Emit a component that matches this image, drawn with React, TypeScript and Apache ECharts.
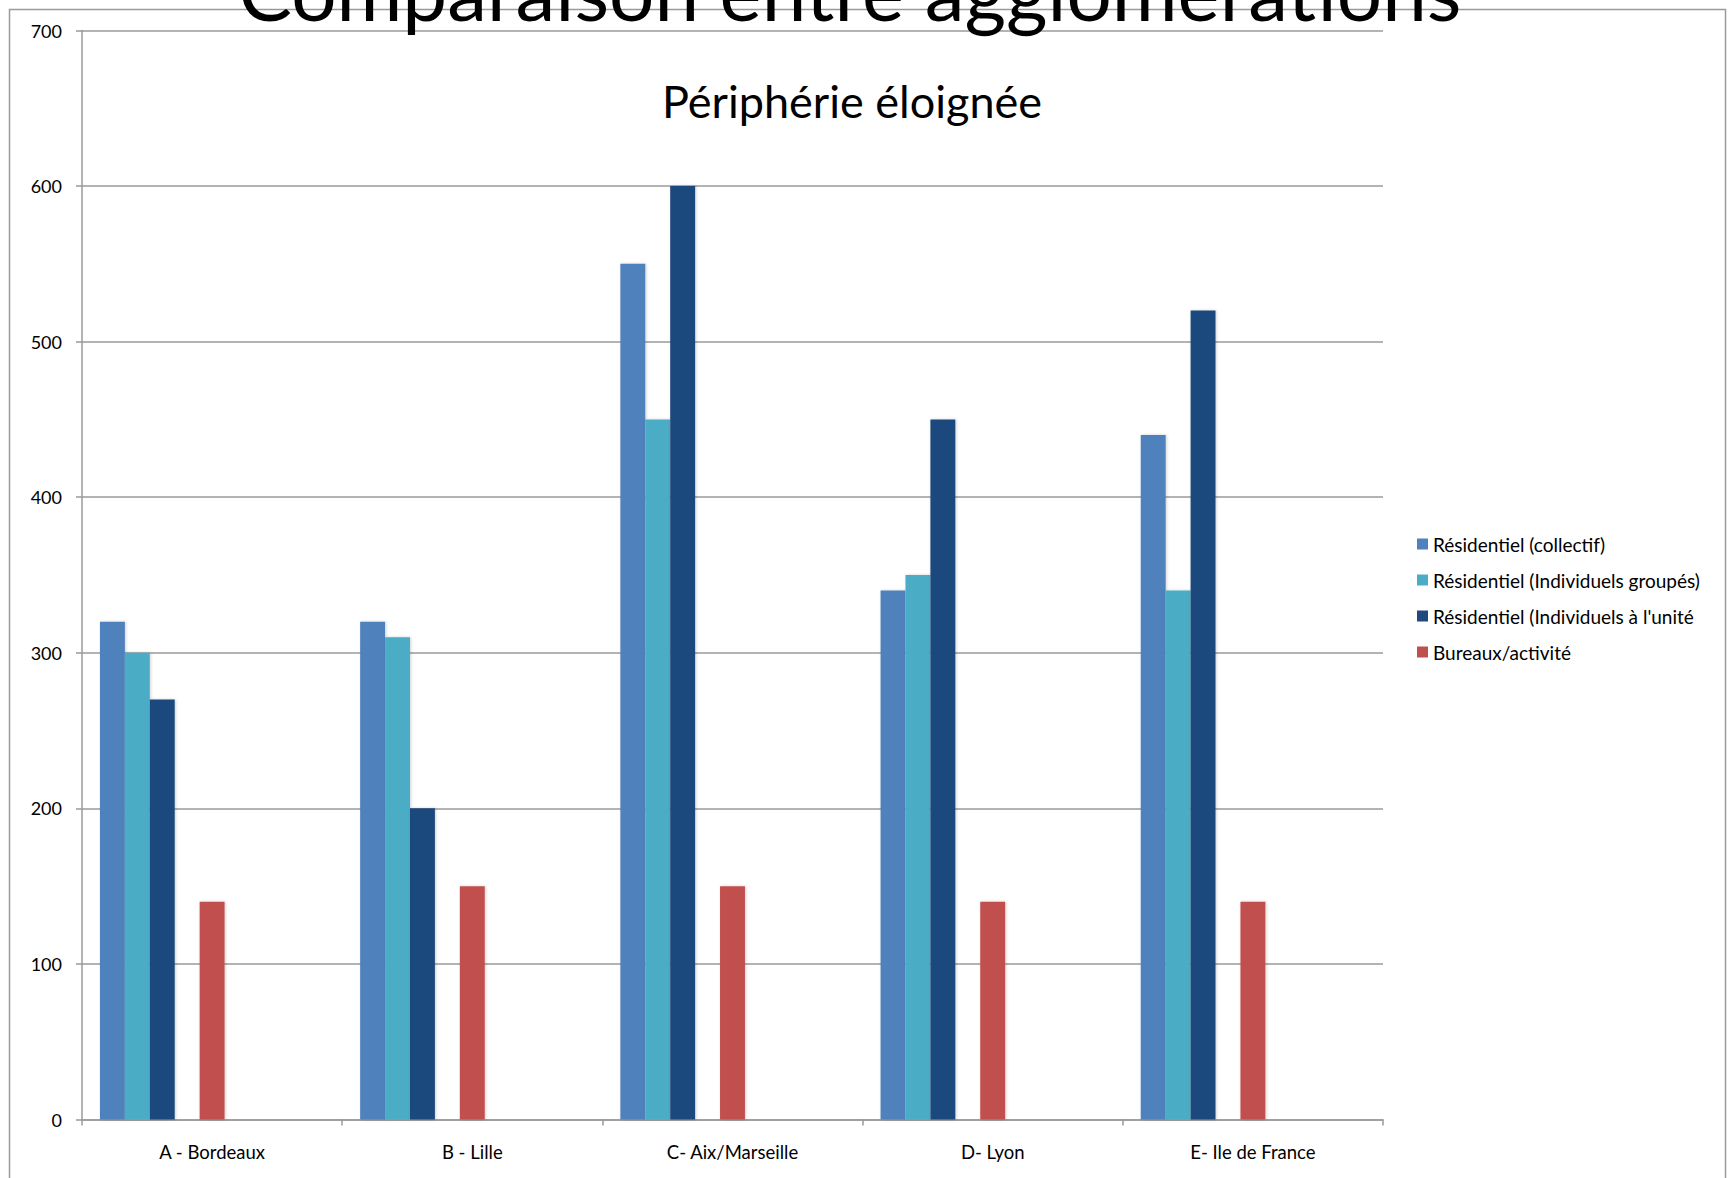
import React, { useEffect, useRef } from "react";
import * as echarts from "echarts";

// Agglomerations compared on the horizontal axis
const categories = [
  "A - Bordeaux",
  "B - Lille",
  "C- Aix/Marseille",
  "D- Lyon",
  "E- Ile de France",
];

// Series names shown in the legend
const seriesNames = [
  "Résidentiel (collectif)",
  "Résidentiel (Individuels groupés)",
  "Résidentiel (Individuels à l'unité",
  "Bureaux/activité",
];

// Values per agglomeration
const collectif = [320, 320, 550, 340, 440];
const individuelsGroupes = [300, 310, 450, 350, 340];
const individuelsUnite = [270, 200, 600, 450, 520];
const bureaux = [140, 150, 150, 140, 140];

const seriesColors = ["#4F81BD", "#4BACC6", "#1F497D", "#C0504D"];

// Y axis range
const yMin = 0;
const yMax = 700;
const yStep = 100;

const FONT = "Lato, 'Open Sans', sans-serif";

export default function App() {
  const ref = useRef<HTMLDivElement>(null);

  useEffect(() => {
    if (!ref.current) return;
    const chart = echarts.init(ref.current, undefined, { renderer: "svg" });

    const barSeries = (name: string, data: number[], color: string) => ({
      name,
      type: "bar",
      data,
      barGap: "0%",
      barCategoryGap: "13.8%",
      itemStyle: {
        color,
        shadowColor: "rgba(0,0,0,0.18)",
        shadowBlur: 3,
        shadowOffsetX: 1,
      },
    });
    // Empty slots keep the spacing of the grouped columns
    const emptySlot = () => ({
      type: "bar",
      data: [] as number[],
      barGap: "0%",
      barCategoryGap: "13.8%",
    });

    chart.setOption({
      animation: false,
      backgroundColor: "#ffffff",
      textStyle: { fontFamily: FONT },
      graphic: [
        {
          type: "rect",
          z: -10,
          silent: true,
          shape: { x: 9.5, y: 9.5, width: 1716, height: 1200 },
          style: { fill: "none", stroke: "#9a9a9a", lineWidth: 1.5 },
        },
        {
          type: "text",
          z: 100,
          x: 850,
          y: -10,
          style: {
            text: "Comparaison entre agglomérations",
            fontFamily: FONT,
            fontSize: 80,
            fill: "#000000",
            align: "center",
            verticalAlign: "middle",
          },
        },
        {
          type: "text",
          z: 100,
          x: 852,
          y: 101,
          style: {
            text: "Périphérie éloignée",
            fontFamily: FONT,
            fontSize: 45,
            fill: "#000000",
            align: "center",
            verticalAlign: "middle",
          },
        },
      ],
      legend: {
        orient: "vertical",
        left: 1417,
        top: 533,
        padding: 0,
        itemWidth: 11,
        itemHeight: 11,
        itemGap: 14,
        icon: "rect",
        data: seriesNames,
        textStyle: {
          fontFamily: FONT,
          fontSize: 19,
          color: "#000000",
          lineHeight: 22,
        },
      },
      grid: {
        left: 82,
        right: 348,
        top: 30.5,
        bottom: 58.5,
        containLabel: false,
      },
      xAxis: {
        type: "category",
        data: categories,
        axisLine: { show: true, lineStyle: { color: "#9a9a9a", width: 1.5 } },
        axisTick: {
          show: true,
          length: 6,
          lineStyle: { color: "#9a9a9a", width: 1.5 },
        },
        axisLabel: {
          margin: 23,
          fontFamily: FONT,
          fontSize: 18.5,
          color: "#000000",
        },
        splitLine: { show: false },
      },
      yAxis: {
        type: "value",
        min: yMin,
        max: yMax,
        interval: yStep,
        axisLine: { show: true, lineStyle: { color: "#9a9a9a", width: 1.5 } },
        axisTick: {
          show: true,
          length: 6,
          lineStyle: { color: "#9a9a9a", width: 1.5 },
        },
        axisLabel: {
          margin: 20,
          fontFamily: FONT,
          fontSize: 18,
          color: "#000000",
        },
        splitLine: { show: true, lineStyle: { color: "#9a9a9a", width: 1.5 } },
      },
      series: [
        barSeries(seriesNames[0], collectif, seriesColors[0]),
        barSeries(seriesNames[1], individuelsGroupes, seriesColors[1]),
        barSeries(seriesNames[2], individuelsUnite, seriesColors[2]),
        emptySlot(),
        barSeries(seriesNames[3], bureaux, seriesColors[3]),
        emptySlot(),
        emptySlot(),
        emptySlot(),
        emptySlot(),
      ],
    });

    return () => chart.dispose();
  }, []);

  return (
    <div
      ref={ref}
      style={{
        position: "fixed",
        left: 0,
        top: 0,
        width: 1731,
        height: 1178,
        background: "#ffffff",
      }}
    />
  );
}
